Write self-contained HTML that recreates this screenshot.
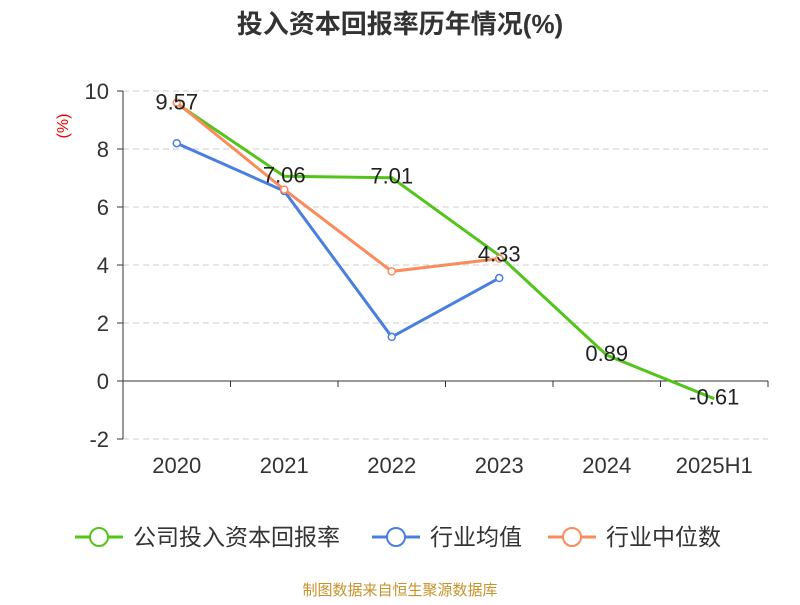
<!DOCTYPE html>
<html><head><meta charset="utf-8">
<style>
body{margin:0;background:#fff;font-family:"Liberation Sans","Noto Sans CJK SC",sans-serif;}
svg text{font-family:"Liberation Sans","Noto Sans CJK SC",sans-serif;}
</style></head>
<body>
<svg width="800" height="600" xmlns="http://www.w3.org/2000/svg">
<text x="400" y="33" text-anchor="middle" font-size="26" font-weight="bold" fill="#333">投入资本回报率历年情况(%)</text>
<text x="68" y="126" text-anchor="middle" font-size="16" fill="#e00" transform="rotate(-90 68 126)">(%)</text>
<g id="grid"></g>
<g id="axes"></g>
<g id="series"></g>
<g id="legend"></g>
<text x="400" y="595" text-anchor="middle" font-size="15" fill="#c8922a">制图数据来自恒生聚源数据库</text>
</svg>
<script>
const categories=["2020","2021","2022","2023","2024","2025H1"];
const companyVals=[9.57,7.06,7.01,4.33,0.89,-0.61];
const industryAvg=[8.2,6.55,1.52,3.55,null,null];
const industryMedian=[9.6,6.6,3.78,4.22,null,null];
const yTicks=[-2,0,2,4,6,8,10];
const NS="http://www.w3.org/2000/svg";
const x0=123,x1=768,band=(x1-x0)/categories.length;
const xs=i=>x0+band*(i+0.5);
const ys=v=>381-v*29;
function el(tag,attrs,parent,text){const e=document.createElementNS(NS,tag);for(const k in attrs)e.setAttribute(k,attrs[k]);if(text!=null)e.textContent=text;parent.appendChild(e);return e;}
const grid=document.getElementById('grid'),axes=document.getElementById('axes'),series=document.getElementById('series'),legend=document.getElementById('legend');
yTicks.forEach(t=>{
  if(t!==0){const g=el('line',{x1:x0,x2:x1,y1:ys(t),y2:ys(t),stroke:'#ccc','stroke-dasharray':'6,4'},grid);
  
  }
  const tk=el('line',{x1:x0-6,x2:x0,y1:ys(t),y2:ys(t),stroke:'#333'},axes);
  
  
  const lb=el('text',{x:x0-14,y:ys(t)+8,'text-anchor':'end','font-size':'22',fill:'#333'},axes,String(t));
  
  
});
const ya=el('line',{x1:x0,x2:x0,y1:ys(10),y2:ys(-2),stroke:'#333'},axes);


const xa=el('line',{x1:x0,x2:x1,y1:ys(0),y2:ys(0),stroke:'#333'},axes);


for(let i=0;i<=categories.length;i++){
  const tk=el('line',{x1:x0+band*i,x2:x0+band*i,y1:ys(0),y2:ys(0)+6,stroke:'#333'},axes);
  
  
}
categories.forEach((c,i)=>{
  const t=el('text',{x:xs(i),y:473,'text-anchor':'middle','font-size':'22',fill:'#333'},axes,c);
  
  
});
function drawSeries(vals,color,name,markers){
  const pts=vals.map((v,i)=>v==null?null:[xs(i),ys(v)]).filter(p=>p);
  const p=el('polyline',{points:pts.map(p=>p.join(',')).join(' '),fill:'none',stroke:color,'stroke-width':3},series);
  
  
  if(markers)pts.forEach(q=>{
    const c=el('circle',{cx:q[0],cy:q[1],r:3.5,fill:'#fff',stroke:color,'stroke-width':1.5},series);
    
    
  });
}
drawSeries(companyVals,'#52c41a','company',false);
drawSeries(industryAvg,'#4a7fe0','industry-avg',true);
drawSeries(industryMedian,'#f98c5a','industry-median',true);
companyVals.forEach((v,i)=>{
  const t=el('text',{x:xs(i),y:ys(v)+6,'text-anchor':'middle','font-size':'22',fill:'#222'},series,v.toFixed(2));
  
  
});
const items=[["公司投入资本回报率","#52c41a",75],["行业均值","#4a7fe0",372],["行业中位数","#f98c5a",548]];
items.forEach(([n,c,x])=>{
  const g=el('g',{},legend);
  
  
  el('line',{x1:x,x2:x+48,y1:537,y2:537,stroke:c,'stroke-width':3},g);
  el('circle',{cx:x+24,cy:537,r:9,fill:'#fff',stroke:c,'stroke-width':2},g);
  el('text',{x:x+58,y:545,'font-size':'23',fill:'#333'},g,n);
});
</script>
</body></html>
